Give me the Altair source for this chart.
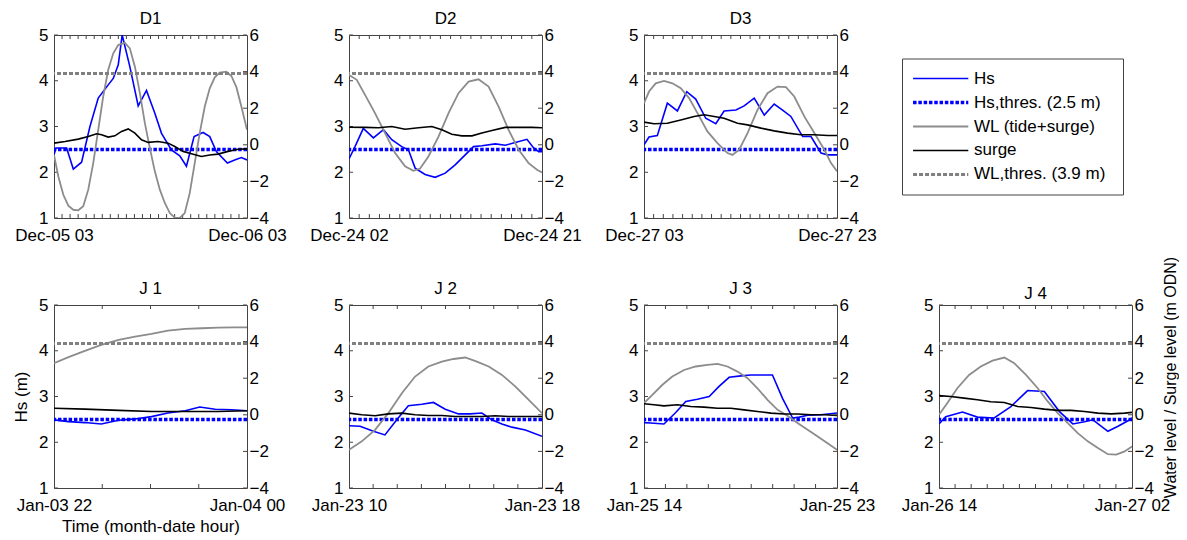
import altair as alt
import pandas as pd

FONT = "Liberation Sans"
W, H = 193, 183
HS_THRES = 2.5
WL_THRES = 3.9

BLUE = "#0000ff"
GREY = "#8c8c8c"
GREY_DASH = "#808080"
BLACK = "#000000"
FRAME = "#444444"

# ---------------- data (hours from panel start, value) ----------------
D1_HS = [(0, 2.38), (0.25, 2.53), (1.57, 2.53), (2.4, 2.07), (3.43, 2.22), (4.47, 3.0), (5.5, 3.62),
         (6.74, 3.91), (7.37, 4.05), (7.99, 4.35), (8.48, 5.0), (9.43, 4.31), (10.47, 3.45), (11.5, 3.79),
         (12.54, 3.29), (13.37, 2.85), (14.6, 2.49), (15.64, 2.36), (16.47, 2.13), (17.42, 2.78),
         (18.54, 2.87), (19.37, 2.78), (20.19, 2.45), (21.56, 2.2), (22.47, 2.27), (23.3, 2.32), (24, 2.27)]
D1_WL = [(0, -0.55), (0.54, -1.73), (1.16, -2.73), (1.78, -3.33), (2.4, -3.55), (3.02, -3.58), (3.64, -3.36),
         (4.26, -2.45), (4.88, -1.0), (5.5, 0.82), (6.12, 2.64), (6.74, 4.09), (7.37, 5.0), (7.99, 5.45),
         (8.81, 5.58), (9.43, 5.27), (10.06, 4.27), (10.68, 2.82), (11.3, 1.18), (11.92, -0.18), (12.54, -1.45),
         (13.16, -2.45), (13.78, -3.18), (14.4, -3.73), (15.02, -3.98), (15.64, -4.0), (16.26, -3.73),
         (16.88, -2.64), (17.5, -1.0), (18.12, 0.64), (18.75, 2.09), (19.37, 3.09), (19.99, 3.69),
         (20.61, 3.95), (21.43, 4.0), (22.06, 3.76), (22.68, 3.15), (23.3, 2.09), (24, 0.82)]
D1_SG = [(0, 0.09), (1.37, 0.18), (3.02, 0.31), (4.26, 0.45), (5.3, 0.6), (5.92, 0.55), (6.74, 0.42),
         (7.57, 0.49), (8.4, 0.73), (9.23, 0.87), (10.06, 0.64), (10.88, 0.27), (11.71, 0.13), (12.95, 0.18),
         (14.19, 0.09), (15.02, -0.09), (16.06, -0.36), (17.09, -0.49), (18.33, -0.64), (19.37, -0.56),
         (20.4, -0.51), (21.64, -0.36), (22.88, -0.24), (24, -0.22)]

D2_HS = [(0, 2.29), (0.59, 2.56), (1.41, 2.96), (2.4, 2.75), (3.39, 2.93), (4.21, 2.71), (5.19, 2.56),
         (5.85, 2.49), (6.51, 2.09), (7.49, 1.95), (8.48, 1.89), (9.47, 1.98), (10.45, 2.16), (11.44, 2.38),
         (12.26, 2.56), (13.08, 2.58), (14.4, 2.62), (15.38, 2.59), (16.37, 2.65), (17.52, 2.72),
         (18.18, 2.53), (18.67, 2.45), (19, 2.45)]
D2_WL = [(0, 3.82), (0.76, 3.55), (1.58, 2.73), (2.56, 1.73), (3.55, 0.64), (4.54, -0.45), (5.52, -1.18),
         (6.34, -1.42), (7.0, -1.3), (7.82, -0.64), (8.81, 0.45), (9.8, 1.73), (10.78, 2.82), (11.77, 3.45),
         (12.75, 3.58), (13.74, 3.18), (14.73, 2.09), (15.71, 0.82), (16.7, -0.27), (17.68, -1.0),
         (18.51, -1.36), (19, -1.51)]
D2_SG = [(0, 0.96), (1.58, 0.95), (2.89, 0.93), (4.21, 1.0), (5.52, 0.85), (6.84, 0.93), (8.15, 1.0),
         (9.14, 0.82), (10.12, 0.58), (11.11, 0.49), (12.1, 0.49), (13.08, 0.64), (14.07, 0.78),
         (15.38, 0.95), (16.7, 0.96), (18.01, 0.95), (19, 0.93)]

D3_HS = [(0, 2.6), (0.52, 2.77), (1.38, 2.8), (2.42, 3.51), (3.46, 3.34), (4.43, 3.76), (5.36, 3.6),
         (6.4, 3.18), (7.44, 3.06), (8.3, 3.34), (9.52, 3.36), (10.38, 3.45), (11.42, 3.62), (12.46, 3.25),
         (13.49, 3.49), (14.36, 3.36), (15.22, 3.22), (16.44, 2.78), (17.3, 2.78), (18.34, 2.42),
         (19.03, 2.38), (20, 2.38)]
D3_WL = [(0, 2.27), (0.52, 2.91), (1.21, 3.36), (2.08, 3.49), (2.94, 3.36), (3.81, 3.09), (4.67, 2.55),
         (5.54, 1.73), (6.57, 0.73), (7.61, 0.09), (8.65, -0.45), (9.17, -0.55), (9.86, -0.27), (10.73, 0.64),
         (11.76, 1.91), (12.8, 2.82), (13.84, 3.18), (14.71, 3.15), (15.57, 2.64), (16.61, 1.55),
         (17.65, 0.64), (18.69, -0.27), (19.38, -1.0), (20, -1.45)]
D3_SG = [(0, 1.24), (1.04, 1.15), (2.42, 1.18), (3.81, 1.36), (5.19, 1.55), (6.23, 1.64), (7.27, 1.55),
         (8.3, 1.45), (9.69, 1.18), (10.73, 1.09), (12.11, 0.91), (13.49, 0.76), (14.88, 0.64),
         (16.26, 0.55), (17.65, 0.55), (19.03, 0.51), (20, 0.51)]

J1_HS = [(0, 2.49), (0.15, 2.45), (0.32, 2.43), (0.49, 2.4), (0.67, 2.48), (0.84, 2.51), (1.01, 2.56),
         (1.18, 2.64), (1.36, 2.69), (1.51, 2.77), (1.67, 2.72), (1.84, 2.71), (2, 2.69)]
J1_WL = [(0, 2.82), (0.15, 3.15), (0.32, 3.49), (0.49, 3.82), (0.67, 4.09), (0.84, 4.27), (1.01, 4.42),
         (1.18, 4.6), (1.36, 4.69), (1.53, 4.73), (1.7, 4.76), (1.87, 4.78), (2, 4.78)]
J1_SG = [(0, 0.36), (0.32, 0.31), (0.67, 0.24), (1.01, 0.18), (1.36, 0.18), (1.7, 0.18), (2, 0.22)]

J2_HS = [(0, 2.36), (0.46, 2.35), (1.01, 2.24), (1.49, 2.16), (1.98, 2.49), (2.46, 2.8), (3.02, 2.83),
         (3.5, 2.87), (3.99, 2.72), (4.54, 2.62), (5.02, 2.62), (5.51, 2.64), (5.92, 2.49), (6.34, 2.4),
         (6.75, 2.33), (7.31, 2.27), (8, 2.13)]
J2_WL = [(0, -1.91), (0.53, -1.45), (1.08, -0.82), (1.63, 0.09), (2.19, 1.18), (2.74, 2.09), (3.29, 2.64),
         (3.85, 2.91), (4.33, 3.05), (4.82, 3.13), (5.3, 2.91), (5.79, 2.64), (6.34, 2.18), (6.89, 1.55),
         (7.45, 0.82), (8, 0.09)]
J2_SG = [(0, 0.09), (0.53, 0.0), (1.08, -0.05), (1.63, 0.05), (2.19, 0.09), (2.74, 0.0), (3.29, -0.04),
         (3.85, -0.04), (4.4, -0.09), (4.96, -0.09), (5.51, -0.09), (6.06, -0.05), (6.62, -0.09),
         (7.31, -0.09), (8, -0.09)]

J3_HS = [(0, 2.43), (0.31, 2.42), (0.93, 2.4), (1.48, 2.65), (1.95, 2.89), (2.49, 2.94), (3.04, 3.0),
         (3.5, 3.22), (3.97, 3.42), (4.52, 3.45), (4.98, 3.47), (5.99, 3.47), (6.46, 2.96), (6.93, 2.53),
         (7.24, 2.55), (7.63, 2.59), (8.25, 2.6), (9, 2.64)]
J3_WL = [(0, 0.64), (0.39, 1.09), (0.86, 1.64), (1.32, 2.09), (1.87, 2.45), (2.41, 2.64), (2.96, 2.73),
         (3.43, 2.78), (3.89, 2.64), (4.36, 2.36), (4.83, 2.0), (5.29, 1.45), (5.76, 0.82), (6.23, 0.27),
         (6.69, -0.05), (7.16, -0.45), (7.63, -0.82), (8.1, -1.18), (8.56, -1.55), (9, -1.91)]
J3_SG = [(0, 0.6), (0.47, 0.55), (0.93, 0.49), (1.56, 0.55), (2.18, 0.45), (2.8, 0.42), (3.43, 0.36),
         (4.05, 0.36), (4.67, 0.27), (5.29, 0.18), (5.92, 0.09), (6.54, 0.04), (7.16, 0.04), (7.79, 0.0),
         (8.41, 0.0), (9, -0.04)]

J4_HS = [(0, 2.4), (0.42, 2.56), (1.46, 2.66), (2.39, 2.55), (3.43, 2.53), (4.47, 2.78), (5.51, 3.13),
         (6.55, 3.11), (7.49, 2.67), (8.32, 2.4), (9.05, 2.45), (9.57, 2.49), (10.5, 2.24), (11.13, 2.35),
         (11.75, 2.47), (12, 2.53)]
J4_WL = [(0, 0.0), (0.52, 0.64), (1.14, 1.45), (1.87, 2.18), (2.6, 2.64), (3.33, 2.96), (4.06, 3.13),
         (4.68, 2.82), (5.41, 2.18), (6.14, 1.45), (6.76, 0.73), (7.38, 0.09), (8.01, -0.45), (8.63, -1.0),
         (9.25, -1.45), (9.88, -1.82), (10.5, -2.15), (11.02, -2.18), (11.54, -2.0), (12, -1.73)]
J4_SG = [(0, 1.05), (0.73, 1.0), (1.56, 0.91), (2.39, 0.82), (3.22, 0.71), (4.06, 0.67), (4.89, 0.45),
         (5.72, 0.4), (6.55, 0.31), (7.38, 0.24), (8.22, 0.24), (9.05, 0.18), (9.88, 0.09), (10.71, 0.05),
         (11.54, 0.09), (12, 0.13)]

TITLES = ["D1", "D2", "D3", "J 1", "J 2", "J 3", "J 4"]
SPANS = [24, 19, 20, 2, 8, 9, 12]
START_LABELS = ["Dec-05 03", "Dec-24 02", "Dec-27 03", "Jan-03 22", "Jan-23 10", "Jan-25 14", "Jan-26 14"]
END_LABELS = ["Dec-06 03", "Dec-24 21", "Dec-27 23", "Jan-04 00", "Jan-23 18", "Jan-25 23", "Jan-27 02"]
HS_SERIES = [D1_HS, D2_HS, D3_HS, J1_HS, J2_HS, J3_HS, J4_HS]
WL_SERIES = [D1_WL, D2_WL, D3_WL, J1_WL, J2_WL, J3_WL, J4_WL]
SG_SERIES = [D1_SG, D2_SG, D3_SG, J1_SG, J2_SG, J3_SG, J4_SG]
MINOR_TICKS = [list(range(1, 24)), list(range(1, 19)), list(range(1, 20)), [0.5, 1.0, 1.5],
               list(range(1, 8)), list(range(1, 9)), list(range(1, 12))]

HS_TICKS = [1, 2, 3, 4, 5]
WL_TICKS = [-4, -2, 0, 2, 4, 6]

LEG_LABELS = ["Hs", "Hs,thres. (2.5 m)", "WL (tide+surge)", "surge", "WL,thres. (3.9 m)"]


def panel(i, x_title=None, hs_title=None, wl_title=None, title_offset=-2):
    span = SPANS[i]
    expr = f"datum.value == 0 ? '{START_LABELS[i]}' : '{END_LABELS[i]}'"
    xax = alt.Axis(values=[0, span], labelExpr=expr, labelFlush=False, labelOverlap=False,
                   labelPadding=9, ticks=False, tickSize=0, domain=False, grid=False,
                   title=x_title, titlePadding=5)
    xs = alt.X("t:Q", scale=alt.Scale(domain=[0, span], nice=False, zero=False), axis=xax)
    yl = alt.Y("y:Q", scale=alt.Scale(domain=[1, 5], nice=False, zero=False),
               axis=alt.Axis(values=HS_TICKS, labelPadding=6, ticks=False, tickSize=0, domain=False,
                             grid=False, title=hs_title, titlePadding=8))
    if wl_title:
        rax = alt.Axis(orient="right", values=WL_TICKS, labelPadding=2, ticks=False, tickSize=0,
                       domain=False, grid=False, title=wl_title, titleAngle=270, titleBaseline="top",
                       titleFontSize=16, titlePadding=9, titleY=72)
    else:
        rax = alt.Axis(orient="right", values=WL_TICKS, labelPadding=2, ticks=False, tickSize=0,
                       domain=False, grid=False, title=None)
    yr = alt.Y("y:Q", scale=alt.Scale(domain=[-4, 6], nice=False, zero=False), axis=rax)

    hs_df = pd.DataFrame(HS_SERIES[i], columns=["t", "y"])
    wl_df = pd.DataFrame(WL_SERIES[i], columns=["t", "y"])
    sg_df = pd.DataFrame(SG_SERIES[i], columns=["t", "y"])
    tick_df = pd.DataFrame({"t": MINOR_TICKS[i]})

    hs_line = alt.Chart(hs_df).mark_line(color=BLUE, strokeWidth=1.6, clip=True).encode(x=xs, y=yl)
    hs_thr = alt.Chart(pd.DataFrame({"y": [HS_THRES]})).mark_rule(
        color=BLUE, strokeWidth=3.5, strokeDash=[3.5, 1.8]).encode(y=yl)
    tb = alt.Chart(tick_df).mark_rule(color=FRAME, strokeWidth=1).encode(
        x=xs, y=alt.value(H), y2=alt.value(H - 4))
    tt = alt.Chart(tick_df).mark_rule(color=FRAME, strokeWidth=1).encode(
        x=xs, y=alt.value(0), y2=alt.value(4))
    ytl = alt.Chart(pd.DataFrame({"y": HS_TICKS})).mark_rule(color=FRAME, strokeWidth=1).encode(
        y=yl, x=alt.value(0), x2=alt.value(4))
    left = alt.layer(hs_line, hs_thr, tb, tt, ytl)

    wl_line = alt.Chart(wl_df).mark_line(color=GREY, strokeWidth=1.8, clip=True).encode(x=xs, y=yr)
    sg_line = alt.Chart(sg_df).mark_line(color=BLACK, strokeWidth=1.6, clip=True).encode(x=xs, y=yr)
    wl_thr = alt.Chart(pd.DataFrame({"y": [WL_THRES]})).mark_rule(
        color=GREY_DASH, strokeWidth=3, strokeDash=[4, 2]).encode(y=yr)
    ytr = alt.Chart(pd.DataFrame({"y": WL_TICKS})).mark_rule(color=FRAME, strokeWidth=1).encode(
        y=yr, x=alt.value(W - 4), x2=alt.value(W))
    right = alt.layer(wl_line, sg_line, wl_thr, ytr)

    return alt.layer(left, right).resolve_scale(y="independent").properties(
        width=W, height=H, title=alt.TitleParams(TITLES[i], offset=title_offset))


def spacer(w):
    return alt.Chart(pd.DataFrame({"s": [0]})).mark_point(opacity=0).encode(
        x=alt.X("s:Q", axis=None), y=alt.Y("s:Q", axis=None)
    ).properties(width=w, height=H, view=alt.ViewBackground(stroke="transparent"))


# ---------------- legend ----------------
LEG_STYLES = [
    dict(color=BLUE, strokeWidth=1.6),
    dict(color=BLUE, strokeWidth=3.5, strokeDash=[3.5, 1.8]),
    dict(color=GREY, strokeWidth=1.8),
    dict(color=BLACK, strokeWidth=1.6),
    dict(color=GREY_DASH, strokeWidth=3, strokeDash=[4, 2]),
]
ly = alt.Y("label:N", sort=LEG_LABELS, scale=alt.Scale(domain=LEG_LABELS, padding=0.67), axis=None)
lxs = alt.Scale(domain=[0, 1])
leg_layers = []
for lab, st in zip(LEG_LABELS, LEG_STYLES):
    leg_layers.append(
        alt.Chart(pd.DataFrame({"label": [lab]})).mark_rule(**st).encode(
            y=ly, x=alt.XDatum(0.05, scale=lxs, axis=None), x2=alt.X2Datum(0.30))
    )
leg_layers.append(
    alt.Chart(pd.DataFrame({"label": LEG_LABELS})).mark_text(
        align="left", baseline="middle", font=FONT, fontSize=17, color="black").encode(
        y=ly, x=alt.XDatum(0.326, scale=lxs, axis=None), text="label:N")
)
legend = alt.layer(*leg_layers).properties(
    width=221, height=136, view=alt.ViewBackground(stroke=FRAME, strokeWidth=1, fill="white"))

# ---------------- layout ----------------
top = alt.hconcat(panel(0), spacer(102), panel(1), spacer(102), panel(2), spacer(65), legend,
                  spacing=0, bounds="flush", center=True)
bottom = alt.hconcat(panel(3, x_title="Time (month-date hour)", hs_title="Hs (m)"),
                     panel(4), panel(5),
                     panel(6, wl_title="Water level / Surge level (m ODN)", title_offset=-47),
                     spacing=102, bounds="flush")

chart = alt.vconcat(top, bottom, spacing=11).properties(
    padding={"left": 4, "top": 1, "right": 0, "bottom": 0}
).configure(font=FONT).configure_axis(
    labelFont=FONT, labelFontSize=17, labelColor="black",
    titleFont=FONT, titleFontSize=17, titleFontWeight="normal", titleColor="black"
).configure_title(
    font=FONT, fontSize=17, fontWeight="normal", color="black", baseline="alphabetic"
).configure_view(stroke=FRAME, strokeWidth=1)

chart.save("out.html", embed_options={"renderer": "svg", "actions": False})
